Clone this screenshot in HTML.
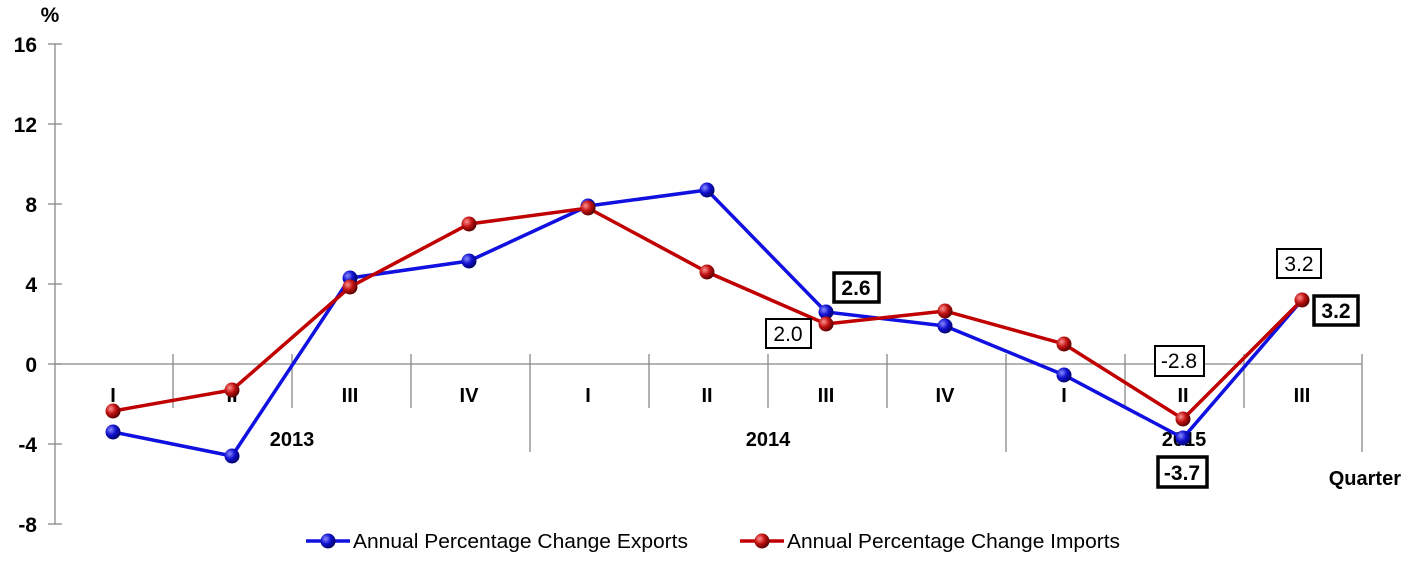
<!DOCTYPE html>
<html><head><meta charset="utf-8"><style>
html,body{margin:0;padding:0;background:#fff}
svg{display:block;font-family:"Liberation Sans",Arial,sans-serif}
</style></head><body>
<svg width="1411" height="573" viewBox="0 0 1411 573" xmlns="http://www.w3.org/2000/svg">
<defs>
<radialGradient id="gb" cx="0.35" cy="0.35" r="0.7"><stop offset="0" stop-color="#8a8aff"/><stop offset="0.5" stop-color="#1010d0"/><stop offset="1" stop-color="#000060"/></radialGradient>
<radialGradient id="gr" cx="0.35" cy="0.35" r="0.7"><stop offset="0" stop-color="#ff9090"/><stop offset="0.5" stop-color="#c01010"/><stop offset="1" stop-color="#500000"/></radialGradient>
</defs>
<g stroke="#888" stroke-width="1.3" fill="none">
<line x1="55" y1="44" x2="55" y2="524"/>
<line x1="48" y1="44" x2="62" y2="44"/><line x1="48" y1="124" x2="62" y2="124"/><line x1="48" y1="204" x2="62" y2="204"/><line x1="48" y1="284" x2="62" y2="284"/><line x1="48" y1="364" x2="62" y2="364"/><line x1="48" y1="444" x2="62" y2="444"/><line x1="48" y1="524" x2="62" y2="524"/>
<line x1="55" y1="364" x2="1362" y2="364"/>
<line x1="173" y1="354" x2="173" y2="408"/><line x1="292" y1="354" x2="292" y2="408"/><line x1="411" y1="354" x2="411" y2="408"/><line x1="649" y1="354" x2="649" y2="408"/><line x1="768" y1="354" x2="768" y2="408"/><line x1="887" y1="354" x2="887" y2="408"/><line x1="1125" y1="354" x2="1125" y2="408"/><line x1="1244" y1="354" x2="1244" y2="408"/>
<line x1="530" y1="354" x2="530" y2="452"/><line x1="1006" y1="354" x2="1006" y2="452"/><line x1="1362" y1="354" x2="1362" y2="452"/>
</g>
<g font-size="21" font-weight="bold" text-anchor="end" fill="#000">
<text x="37" y="52">16</text><text x="37" y="132">12</text><text x="37" y="212">8</text><text x="37" y="292">4</text><text x="37" y="372">0</text><text x="37" y="452">-4</text><text x="37" y="532">-8</text>
</g>
<text x="50" y="22" font-size="21" font-weight="bold" text-anchor="middle">%</text>
<g font-size="20" font-weight="bold" text-anchor="middle">
<text x="113" y="402">I</text><text x="232" y="402">II</text><text x="350" y="402">III</text><text x="469" y="402">IV</text><text x="588" y="402">I</text><text x="707" y="402">II</text><text x="826" y="402">III</text><text x="945" y="402">IV</text><text x="1064" y="402">I</text><text x="1183" y="402">II</text><text x="1302" y="402">III</text>
<text x="292" y="446">2013</text><text x="768" y="446">2014</text><text x="1184" y="446">2015</text>
</g>
<text x="1401" y="485" font-size="20" font-weight="bold" text-anchor="end">Quarter</text>
<polyline fill="none" stroke="#1010e0" stroke-width="3.5" points="113,432 232,456 350,278 469,261 588,206 707,190 826,312 945,326 1064,375 1183,438 1302,300"/>
<polyline fill="none" stroke="#c00000" stroke-width="3.5" points="113,411 232,390 350,287 469,224 588,208 707,272 826,324 945,311 1064,344 1183,419 1302,300"/>
<g fill="url(#gb)">
<circle cx="113" cy="432" r="7.5"/><circle cx="232" cy="456" r="7.5"/><circle cx="350" cy="278" r="7.5"/><circle cx="469" cy="261" r="7.5"/><circle cx="588" cy="206" r="7.5"/><circle cx="707" cy="190" r="7.5"/><circle cx="826" cy="312" r="7.5"/><circle cx="945" cy="326" r="7.5"/><circle cx="1064" cy="375" r="7.5"/><circle cx="1183" cy="438" r="7.5"/>
</g>
<g fill="url(#gr)">
<circle cx="113" cy="411" r="7.5"/><circle cx="232" cy="390" r="7.5"/><circle cx="350" cy="287" r="7.5"/><circle cx="469" cy="224" r="7.5"/><circle cx="588" cy="208" r="7.5"/><circle cx="707" cy="272" r="7.5"/><circle cx="826" cy="324" r="7.5"/><circle cx="945" cy="311" r="7.5"/><circle cx="1064" cy="344" r="7.5"/><circle cx="1183" cy="419" r="7.5"/><circle cx="1302" cy="300" r="7.5"/>
</g>
<g fill="#fff" stroke="#000">
<rect x="834" y="273" width="45" height="29" stroke-width="3.5"/>
<rect x="1158" y="457" width="49" height="30" stroke-width="3.5"/>
<rect x="1314" y="296" width="44" height="29" stroke-width="3.5"/>
<rect x="766" y="319" width="45" height="29" stroke-width="2"/>
<rect x="1155" y="346" width="49" height="30" stroke-width="2"/>
<rect x="1277" y="249" width="44" height="29" stroke-width="2"/>
</g>
<g font-size="21" text-anchor="middle">
<text x="856" y="295" font-weight="bold">2.6</text>
<text x="1182" y="480" font-weight="bold">-3.7</text>
<text x="1336" y="318" font-weight="bold">3.2</text>
<text x="788" y="341">2.0</text>
<text x="1179" y="368">-2.8</text>
<text x="1299" y="271">3.2</text>
</g>
<line x1="306" y1="541" x2="350" y2="541" stroke="#1010e0" stroke-width="3.5"/>
<circle cx="328" cy="541" r="7.5" fill="url(#gb)"/>
<text x="353" y="548" font-size="20" textLength="335" lengthAdjust="spacingAndGlyphs">Annual Percentage Change Exports</text>
<line x1="740" y1="541" x2="784" y2="541" stroke="#c00000" stroke-width="3.5"/>
<circle cx="762" cy="541" r="7.5" fill="url(#gr)"/>
<text x="787" y="548" font-size="20" textLength="333" lengthAdjust="spacingAndGlyphs">Annual Percentage Change Imports</text>
</svg>
</body></html>
